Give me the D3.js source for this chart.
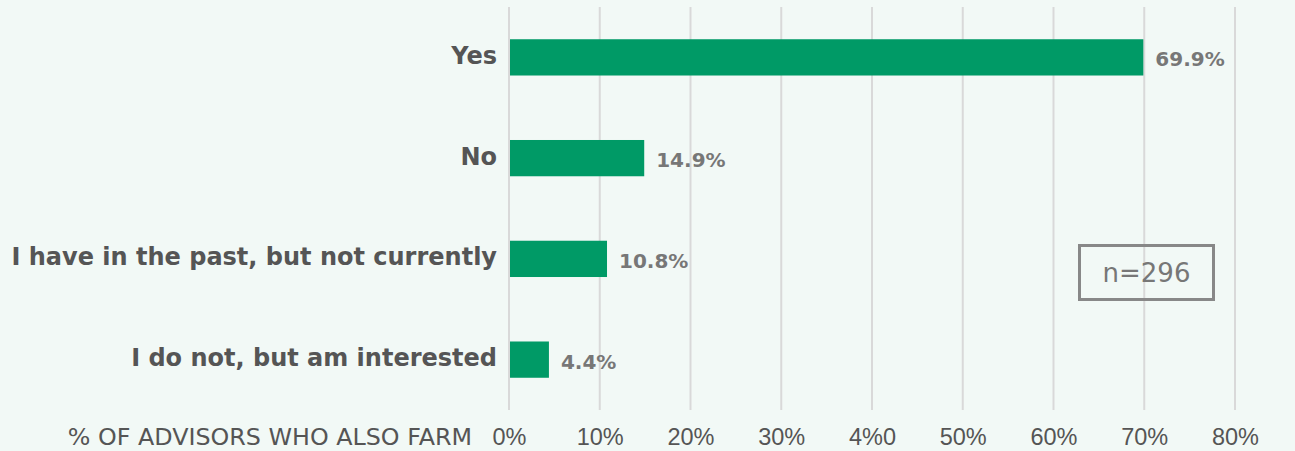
<!DOCTYPE html>
<html>
<head>
<meta charset="utf-8">
<script src="https://cdn.jsdelivr.net/npm/d3@7"></script>
<style>
  body { margin: 0; background: #f2f9f6; }
  svg { display: block; font-family: "DejaVu Sans", "Noto Sans", sans-serif; }
</style>
</head>
<body>
<svg></svg>
<script>
// Data
const categories = ["Yes", "No", "I have in the past, but not currently", "I do not, but am interested"];
const values = [69.9, 14.9, 10.8, 4.4];
const tickValues = [0, 10, 20, 30, 40, 50, 60, 70, 80];
const tickLabels = ["0%", "10%", "20%", "30%", "4%0", "50%", "60%", "70%", "80%"];

const W = 1295, H = 451;
const margin = {top: 7, right: 60, bottom: 41, left: 509};
const width = 1235 - margin.left,
      height = H - margin.top - margin.bottom;

const svg = d3.select("svg")
    .attr("width", W)
    .attr("height", H);

svg.append("rect").attr("width", W).attr("height", H).attr("fill", "#f2f9f6");

const g = svg.append("g")
    .attr("transform", `translate(${margin.left},${margin.top})`);

const x = d3.scaleLinear()
  .domain([0, 80])
  .range([0, width]);

const y = d3.scaleBand()
  .domain(categories)
  .range([0, height])
  .paddingInner(0.64)
  .paddingOuter(0.32);

// Gridlines
g.append("g")
  .selectAll("line")
  .data(tickValues)
  .join("line")
    .attr("x1", d => x(d))
    .attr("x2", d => x(d))
    .attr("y1", 0)
    .attr("y2", height)
    .attr("stroke", "#d9d9d9")
    .attr("stroke-width", 2);

// X axis labels
const xAxis = g.append("g")
  .attr("transform", `translate(0,${height})`)
  .call(d3.axisBottom(x).tickValues(tickValues).tickSize(0).tickPadding(0)
    .tickFormat((d, i) => tickLabels[i]));
xAxis.select(".domain").remove();
xAxis.selectAll("text")
  .attr("dy", null)
  .attr("y", 35)
  .attr("fill", "#555")
  .attr("font-size", 23.5);

g.append("text")
  .attr("x", -37)
  .attr("y", height + 35)
  .attr("text-anchor", "end")
  .attr("fill", "#555")
  .attr("font-size", 23.8)
  .text("% OF ADVISORS WHO ALSO FARM");

// Bars
g.append("g")
  .selectAll("rect")
  .data(values)
  .join("rect")
    .attr("x", x(0) + 1)
    .attr("y", (d, i) => y(categories[i]))
    .attr("width", d => x(d) - 1)
    .attr("height", y.bandwidth())
    .attr("fill", "#009a66");

// Value labels
g.append("g")
  .selectAll("text")
  .data(values)
  .join("text")
    .attr("x", d => x(d) + 12)
    .attr("y", (d, i) => y(categories[i]) + y.bandwidth() / 2 + 2)
    .attr("dy", "0.35em")
    .attr("fill", "#777")
    .attr("font-size", 20)
    .attr("font-weight", "bold")
    .text(d => d.toFixed(1) + "%");

// Category labels
g.append("g")
  .selectAll("text")
  .data(categories)
  .join("text")
    .attr("x", -12)
    .attr("y", d => y(d) + y.bandwidth() / 2 - 2)
    .attr("dy", "0.35em")
    .attr("text-anchor", "end")
    .attr("fill", "#555")
    .attr("font-size", 24)
    .attr("font-weight", "bold")
    .text(d => d);

// n box
svg.append("rect")
  .attr("x", 1079.5).attr("y", 245.5)
  .attr("width", 134).attr("height", 54)
  .attr("fill", "none")
  .attr("stroke", "#888")
  .attr("stroke-width", 3);
svg.append("text")
  .attr("x", 1146.5).attr("y", 273)
  .attr("dy", "0.35em")
  .attr("text-anchor", "middle")
  .attr("fill", "#777")
  .attr("font-size", 26)
  .text("n=296");
</script>
</body>
</html>
